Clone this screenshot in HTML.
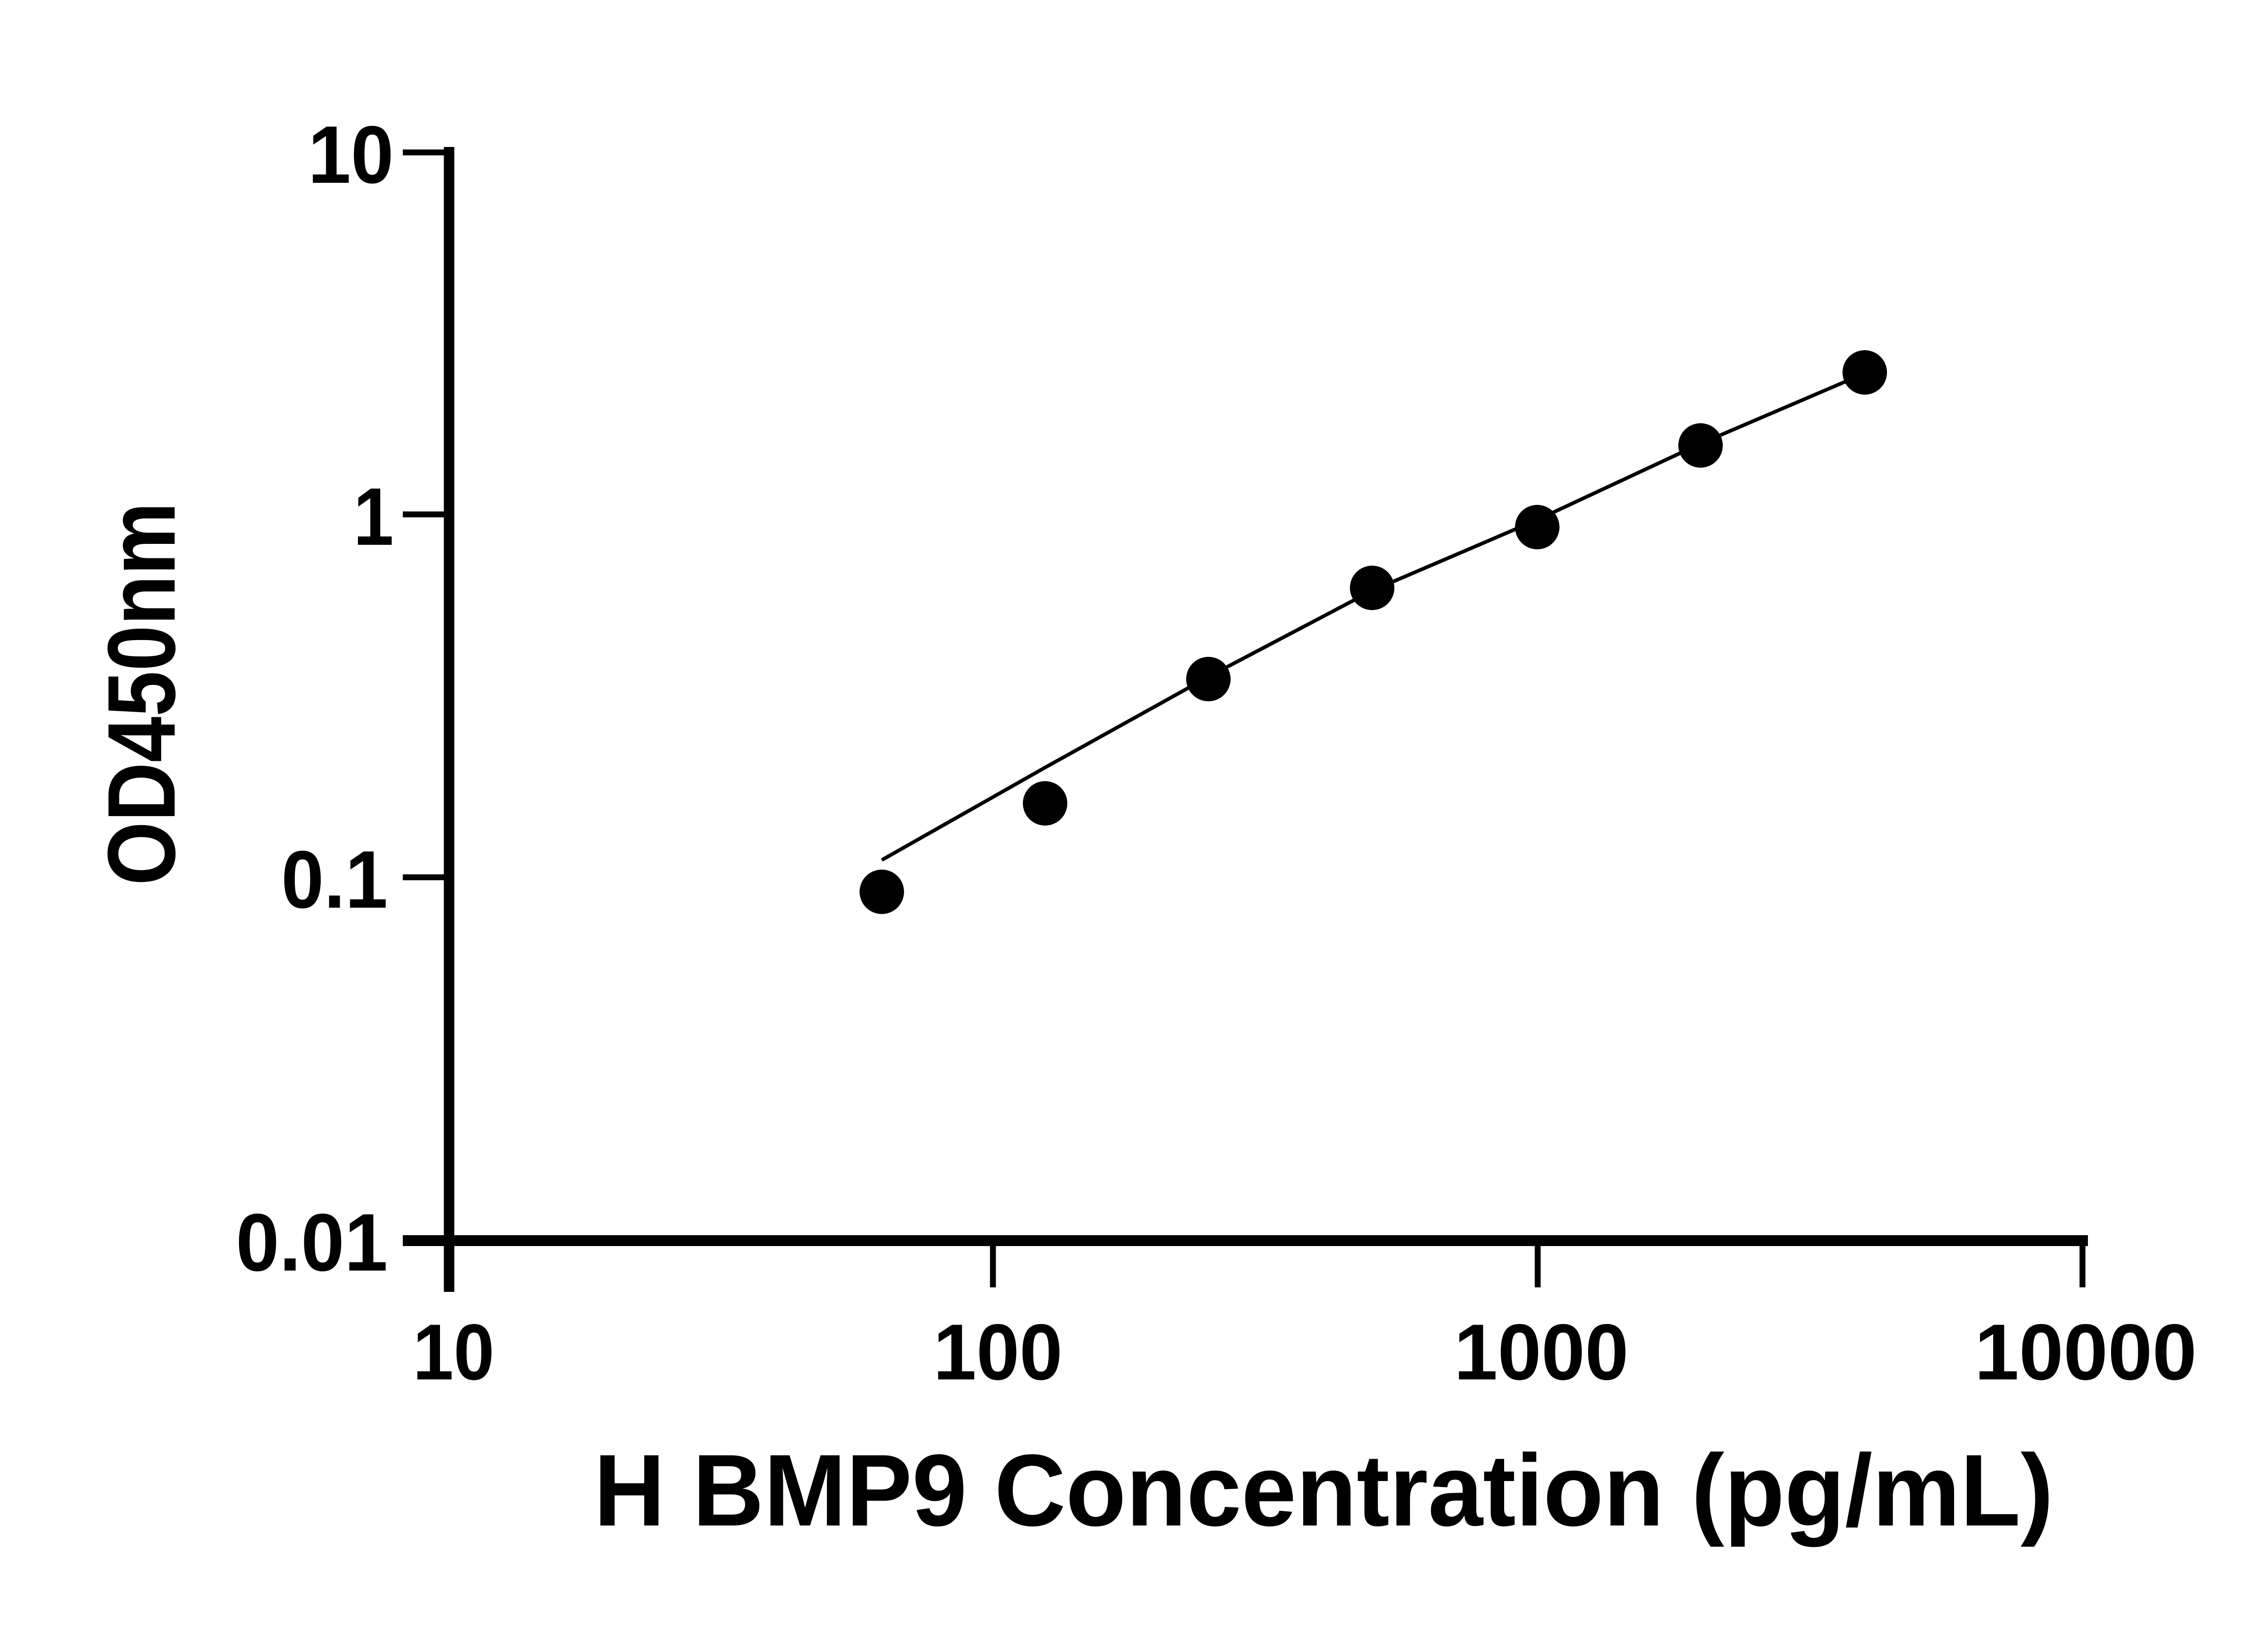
<!DOCTYPE html>
<html><head><style>html,body{margin:0;padding:0;background:#fff}svg{display:block}</style></head>
<body>
<svg width="5142" height="3600" viewBox="0 0 5142 3600" xmlns="http://www.w3.org/2000/svg">
<rect width="5142" height="3600" fill="#fff"/>
<g stroke="#000" fill="none">
<line x1="990" y1="324" x2="990" y2="2848" stroke-width="23"/>
<line x1="888" y1="2735" x2="4603" y2="2735" stroke-width="24"/>
<line x1="888" y1="336" x2="990" y2="336" stroke-width="13"/>
<line x1="888" y1="1134" x2="990" y2="1134" stroke-width="13"/>
<line x1="888" y1="1934" x2="990" y2="1934" stroke-width="13"/>
<line x1="2189" y1="2735" x2="2189" y2="2838" stroke-width="13"/>
<line x1="3390" y1="2735" x2="3390" y2="2838" stroke-width="13"/>
<line x1="4591" y1="2735" x2="4591" y2="2838" stroke-width="13"/>
<path stroke-width="8" d="M1944,1896 L2304,1692 L2664,1492 L3025,1302 L3389,1146 L3749,978 L4090,832" stroke-linejoin="round"/>
</g>
<g fill="#000">
<circle cx="1944" cy="1966" r="49"/>
<circle cx="2304" cy="1771" r="49"/>
<circle cx="2664" cy="1497" r="49"/>
<circle cx="3025" cy="1296" r="49"/>
<circle cx="3389" cy="1162" r="49"/>
<circle cx="3749" cy="982" r="49"/>
<circle cx="4111" cy="821" r="49"/>
</g>
<g font-family="Liberation Sans, Arial, sans-serif" font-weight="bold" fill="#000">
<g font-size="180">
<text x="679" y="403" textLength="189" lengthAdjust="spacingAndGlyphs">10</text>
<text x="779" y="1201" textLength="89" lengthAdjust="spacingAndGlyphs">1</text>
<text x="620" y="2001" textLength="235" lengthAdjust="spacingAndGlyphs">0.1</text>
<text x="520" y="2801" textLength="335" lengthAdjust="spacingAndGlyphs">0.01</text>
</g>
<g font-size="175" text-anchor="middle">
<text x="1000" y="3041" textLength="180" lengthAdjust="spacingAndGlyphs">10</text>
<text x="2200" y="3041" textLength="285" lengthAdjust="spacingAndGlyphs">100</text>
<text x="3398" y="3041" textLength="385" lengthAdjust="spacingAndGlyphs">1000</text>
<text x="4598" y="3041" textLength="490" lengthAdjust="spacingAndGlyphs">10000</text>
</g>
<text x="1309" y="3363" font-size="225" textLength="3218" lengthAdjust="spacingAndGlyphs">H BMP9 Concentration (pg/mL)</text>
<text transform="translate(385,1952) rotate(-90)" font-size="212" textLength="845" lengthAdjust="spacingAndGlyphs">OD450nm</text>
</g>
</svg>
</body></html>
